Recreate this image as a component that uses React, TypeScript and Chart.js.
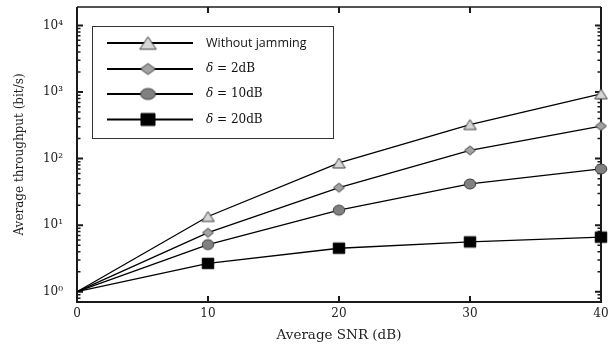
import React, { useEffect, useRef } from 'react';
import { Chart, registerables } from 'chart.js';
Chart.register(...registerables);

// ---- data ----
const snrDb = [0, 10, 20, 30, 40];
const withoutJamming = [1, 13.5, 86, 325, 940];
const delta2dB = [1, 7.7, 36.6, 133, 309];
const delta10dB = [1, 5.1, 16.8, 41.6, 70];
const delta20dB = [1, 2.66, 4.5, 5.6, 6.6];
const seriesNames = ['Without jamming', 'δ = 2dB', 'δ = 10dB', 'δ = 20dB'];
const xTickValues = [0, 10, 20, 30, 40];
const yMajorValues = [1, 10, 100, 1000, 10000];
const yTickLabels = ['10⁰', '10¹', '10²', '10³', '10⁴'];
const xTitle = 'Average SNR (dB)';
const yTitle = 'Average throughput (bit/s)';

type Shape = 'triangle' | 'diamond' | 'ellipse' | 'square';

function makeMarker(shape: Shape, w: number, h: number, fill: string, stroke: string): HTMLCanvasElement {
  const pad = 2;
  const c = document.createElement('canvas');
  c.width = Math.ceil(w + pad * 2);
  c.height = Math.ceil(h + pad * 2);
  const ctx = c.getContext('2d')!;
  const cx = c.width / 2;
  const cy = c.height / 2;
  ctx.beginPath();
  if (shape === 'triangle') {
    ctx.moveTo(cx, cy - h / 2);
    ctx.lineTo(cx + w / 2, cy + h / 2);
    ctx.lineTo(cx - w / 2, cy + h / 2);
    ctx.closePath();
  } else if (shape === 'diamond') {
    ctx.moveTo(cx, cy - h / 2);
    ctx.lineTo(cx + w / 2, cy);
    ctx.lineTo(cx, cy + h / 2);
    ctx.lineTo(cx - w / 2, cy);
    ctx.closePath();
  } else if (shape === 'ellipse') {
    ctx.ellipse(cx, cy, w / 2, h / 2, 0, 0, Math.PI * 2);
  } else {
    ctx.rect(cx - w / 2, cy - h / 2, w, h);
  }
  ctx.fillStyle = fill;
  ctx.fill();
  ctx.lineWidth = 1;
  ctx.strokeStyle = stroke;
  ctx.stroke();
  return c;
}

export default function App() {
  const canvasRef = useRef<HTMLCanvasElement | null>(null);

  useEffect(() => {
    const canvas = canvasRef.current;
    if (!canvas) return;

    const fills = ['#d6d6d6', '#a3a3a3', '#808080', '#000000'];
    const strokes = ['#404040', '#404040', '#404040', '#000000'];
    const shapes: Shape[] = ['triangle', 'diamond', 'ellipse', 'square'];
    const plotSizes = [[12.5, 10], [11, 9], [11.5, 10], [11.5, 10.5]];
    const legendSizes = [[16.5, 12.5], [15, 11], [15, 11], [14, 12]];
    const plotMarkers = shapes.map((s, i) => makeMarker(s, plotSizes[i][0], plotSizes[i][1], fills[i], strokes[i]));
    const legendMarkers = shapes.map((s, i) => makeMarker(s, legendSizes[i][0], legendSizes[i][1], fills[i], strokes[i]));

    const seriesValues = [withoutJamming, delta2dB, delta10dB, delta20dB];

    const datasets = seriesValues.map((vals, i) => ({
      label: seriesNames[i],
      data: snrDb.map((x, k) => ({ x, y: vals[k] })),
      borderColor: '#000000',
      borderWidth: 1.3,
      pointStyle: plotMarkers[i],
      pointRadius: snrDb.map((x) => (x === 0 ? 0 : 5)),
      pointHoverRadius: snrDb.map((x) => (x === 0 ? 0 : 5)),
      clip: false as any,
      tension: 0,
      fill: false,
    }));

    const serif = 'DejaVu Serif';
    const textColor = '#222222';

    const frameTicks = {
      id: 'frameTicks',
      beforeDatasetsDraw(chart: any) {
        const { ctx, chartArea: a, scales } = chart;
        const xs = scales.x;
        const ys = scales.y;
        ctx.save();
        ctx.strokeStyle = '#1a1a1a';
        const minorVals: number[] = [];
        for (let k = -1; k <= 4; k++) {
          for (let m = 2; m <= 9; m++) {
            const v = m * Math.pow(10, k);
            if (v >= ys.min && v <= ys.max) minorVals.push(v);
          }
        }
        ctx.lineWidth = 1.5;
        ctx.beginPath();
        minorVals.forEach((v) => {
          const y = ys.getPixelForValue(v);
          ctx.moveTo(a.left, y);
          ctx.lineTo(a.left + 3.5, y);
          ctx.moveTo(a.right, y);
          ctx.lineTo(a.right - 3.5, y);
        });
        ctx.stroke();
        ctx.lineWidth = 2;
        ctx.beginPath();
        yMajorValues.forEach((v) => {
          const y = ys.getPixelForValue(v);
          ctx.moveTo(a.left, y);
          ctx.lineTo(a.left + 6, y);
          ctx.moveTo(a.right, y);
          ctx.lineTo(a.right - 6, y);
        });
        xTickValues.forEach((v) => {
          if (v === xs.min || v === xs.max) return;
          const x = xs.getPixelForValue(v);
          ctx.moveTo(x, a.bottom);
          ctx.lineTo(x, a.bottom - 6);
          ctx.moveTo(x, a.top);
          ctx.lineTo(x, a.top + 6);
        });
        ctx.stroke();
        ctx.lineWidth = 2;
        ctx.beginPath();
        ctx.moveTo(a.left, a.top);
        ctx.lineTo(a.left, a.bottom);
        ctx.lineTo(a.right, a.bottom);
        ctx.lineTo(a.right, a.top);
        ctx.stroke();
        ctx.lineWidth = 1.5;
        ctx.beginPath();
        ctx.moveTo(a.left, a.top);
        ctx.lineTo(a.right, a.top);
        ctx.stroke();
        ctx.restore();
      },
    };

    const legendBox = {
      id: 'legendBox',
      afterDatasetsDraw(chart: any) {
        const { ctx, chartArea: a } = chart;
        const bx = a.left + 15;
        const by = a.top + 19;
        const bw = 241;
        const bh = 112;
        ctx.save();
        ctx.fillStyle = '#ffffff';
        ctx.fillRect(bx, by, bw, bh);
        ctx.strokeStyle = '#333333';
        ctx.lineWidth = 1;
        ctx.strokeRect(bx + 0.5, by + 0.5, bw, bh);
        const rowY = [17, 43, 68, 93.5];
        chart.data.datasets.forEach((ds: any, i: number) => {
          const y = by + rowY[i];
          ctx.strokeStyle = '#000000';
          ctx.lineWidth = 2;
          ctx.beginPath();
          ctx.moveTo(bx + 15, y);
          ctx.lineTo(bx + 101, y);
          ctx.stroke();
          const m = legendMarkers[i];
          ctx.drawImage(m, bx + 56 - m.width / 2, y - m.height / 2);
          ctx.fillStyle = '#111111';
          ctx.textBaseline = 'middle';
          ctx.textAlign = 'left';
          const label: string = ds.label;
          const tx = bx + 114;
          if (label.startsWith('δ')) {
            ctx.font = `italic 12px "${serif}"`;
            ctx.fillText('δ', tx, y);
            const dw = ctx.measureText('δ').width;
            ctx.font = `12px "${serif}"`;
            ctx.fillText(label.slice(1), tx + dw, y);
          } else {
            ctx.font = `500 12.5px "Open Sans"`;
            ctx.fillText(label, tx, y);
          }
        });
        ctx.restore();
      },
    };

    const chart = new Chart(canvas, {
      type: 'line',
      data: { datasets: datasets as any },
      options: {
        animation: false,
        responsive: true,
        maintainAspectRatio: false,
        devicePixelRatio: 1,
        layout: { padding: { top: 7, right: 12, left: 0, bottom: 0 } },
        plugins: {
          legend: { display: false },
          tooltip: { enabled: false },
        },
        scales: {
          x: {
            type: 'linear',
            min: 0,
            max: 40,
            afterBuildTicks: (s: any) => {
              s.ticks = xTickValues.map((v) => ({ value: v }));
            },
            afterFit: (s: any) => {
              s.height = 47;
              s.paddingLeft = 0;
              s.paddingRight = 0;
            },
            grid: { display: false, drawTicks: false },
            border: { display: false },
            ticks: {
              font: { family: serif, size: 12 },
              color: textColor,
              padding: 5,
              maxRotation: 0,
              autoSkip: false,
            },
            title: {
              display: true,
              text: xTitle,
              font: { family: serif, size: 13.5 },
              color: textColor,
              padding: { top: 0, bottom: 5 },
            },
          },
          y: {
            type: 'logarithmic',
            min: 0.72,
            max: 19000,
            afterBuildTicks: (s: any) => {
              s.ticks = yMajorValues.map((v) => ({ value: v, major: true }));
            },
            afterFit: (s: any) => {
              s.width = 77;
              s.paddingTop = 0;
              s.paddingBottom = 0;
            },
            grid: { display: false, drawTicks: false },
            border: { display: false },
            ticks: {
              font: { family: serif, size: 12 },
              color: textColor,
              padding: 14,
              autoSkip: false,
              callback: (v: any) => {
                const i = yMajorValues.indexOf(Number(v));
                return i >= 0 ? yTickLabels[i] : '';
              },
            },
            title: {
              display: true,
              text: yTitle,
              font: { family: serif, size: 12 },
              color: textColor,
              padding: { top: 13, bottom: 0 },
            },
          },
        },
      },
      plugins: [frameTicks, legendBox],
    });

    return () => {
      chart.destroy();
    };
  }, []);

  return (
    <div style={{ position: 'fixed', left: 0, top: 0, width: 613, height: 349, background: '#ffffff' }}>
      <canvas ref={canvasRef} />
    </div>
  );
}
